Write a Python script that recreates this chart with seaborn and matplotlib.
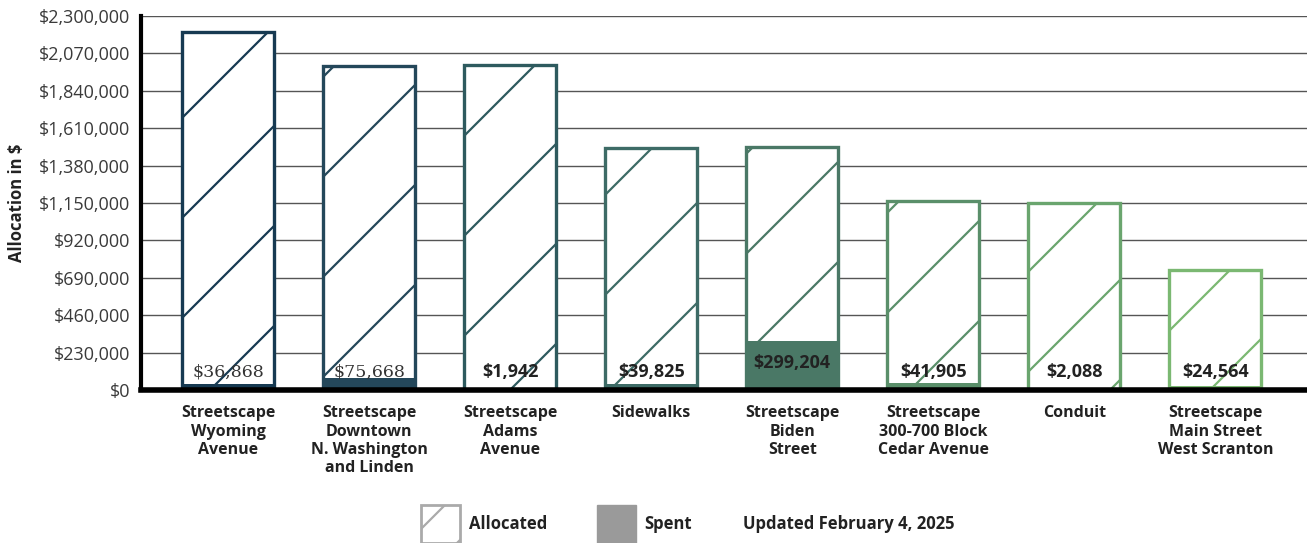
import matplotlib
matplotlib.use("Agg")
import matplotlib.pyplot as plt
import seaborn as sns
import pandas as pd
from matplotlib import backend_bases, hatch as mhatch
from matplotlib.patches import Patch
from matplotlib.ticker import FuncFormatter

# sparser hatch lines (matplotlib default density is 6 per inch)
def _sparse_hatch(self, density=6.0):
    h = self.get_hatch()
    if h is None:
        return None
    return mhatch.get_path(h, 2.0)
backend_bases.GraphicsContextBase.get_hatch_path = _sparse_hatch

# ---------------- data ----------------
categories = [
    "Streetscape\nWyoming\nAvenue",
    "Streetscape\nDowntown\nN. Washington\nand Linden",
    "Streetscape\nAdams\nAvenue",
    "Sidewalks",
    "Streetscape\nBiden\nStreet",
    "Streetscape\n300-700 Block\nCedar Avenue",
    "Conduit",
    "Streetscape\nMain Street\nWest Scranton",
]
allocated = [2200000, 1995000, 2000000, 1490000, 1495000, 1160000, 1150000, 740000]
spent = [36868, 75668, 1942, 39825, 299204, 41905, 2088, 24564]
spent_labels = ["$36,868", "$75,668", "$1,942", "$39,825", "$299,204", "$41,905", "$2,088", "$24,564"]
y_ticks = [0, 230000, 460000, 690000, 920000, 1150000, 1380000, 1610000, 1840000, 2070000, 2300000]

colors = ["#173a52", "#24475a", "#2e5a5e", "#3d6b66", "#4a7866", "#5a8f6a", "#6aa56e", "#7bb872"]

df = pd.DataFrame({"cat": categories, "allocated": allocated, "spent": spent})

sns.set_style("white")
plt.rcParams["font.family"] = ["Open Sans", "DejaVu Sans"]
plt.rcParams["hatch.linewidth"] = 1.6

fig = plt.figure(figsize=(13.07, 5.43), dpi=100)
ax = fig.add_axes([0.1079, 0.2818, 0.8921, 0.6887])

sns.barplot(data=df, x="cat", y="allocated", hue="cat", palette=colors, legend=False,
            width=0.65, ax=ax, zorder=3)
n = len(categories)
for p, c in zip(ax.patches[:n], colors):
    p.set_facecolor("white")
    p.set_edgecolor(c)
    p.set_linewidth(2.4)
    p.set_hatch("/")
    p.set_zorder(3)

sns.barplot(data=df, x="cat", y="spent", hue="cat", palette=colors, legend=False,
            width=0.65 + 0.02, ax=ax, saturation=1)
for p, c in zip(ax.patches[n:], colors):
    p.set_facecolor(c)
    p.set_edgecolor(c)
    p.set_linewidth(0)
    p.set_zorder(4)

for i, (s, lab) in enumerate(zip(spent, spent_labels)):
    y = max(110000, s * 0.55)
    if i < 2:
        ax.text(i, y, lab, ha="center", va="center", fontsize=12.5,
                family=["DejaVu Serif"], color="#333333", zorder=5)
    else:
        ax.text(i, y, lab, ha="center", va="center", fontsize=13,
                fontweight="bold", color="#222222", zorder=5)

ax.set_ylim(0, 2300000)
ax.set_xlim(-0.617, 7.65)
ax.set_yticks(y_ticks)
ax.yaxis.set_major_formatter(FuncFormatter(lambda v, _: f"${v:,.0f}"))
ax.tick_params(axis="y", labelsize=13, labelcolor="#3a3a3a", length=0, pad=8)
ax.tick_params(axis="x", labelsize=11.5, labelcolor="#222222", length=0, pad=11)
for t in ax.get_xticklabels():
    t.set_fontweight("bold")
    t.set_linespacing(1.2)
    t.set_va("top")
ax.set_xlabel("")
ax.set_ylabel("Allocation in $", fontsize=12, fontweight="bold", color="#222222", labelpad=9)

ax.grid(axis="y", color="#555555", linewidth=1.0, zorder=0)
ax.set_axisbelow(True)
for s in ["top", "right"]:
    ax.spines[s].set_visible(False)
ax.spines["left"].set_linewidth(3)
ax.spines["left"].set_color("black")
ax.spines["bottom"].set_linewidth(4)
ax.spines["bottom"].set_color("black")
ax.spines["bottom"].set_zorder(6)

handles = [Patch(facecolor="white", edgecolor="#aaaaaa", hatch="//", linewidth=2, label="Allocated"),
           Patch(facecolor="#9a9a9a", edgecolor="#9a9a9a", label="Spent")]
leg = fig.legend(handles=handles, loc="center left", bbox_to_anchor=(0.311, 0.035), ncol=2,
                 frameon=False, handlelength=2.3, handleheight=3.1, columnspacing=3.0,
                 handletextpad=0.55, prop={"weight": "bold", "size": 12})
for t in leg.get_texts():
    t.set_color("#222222")
fig.text(0.5685, 0.035, "Updated February 4, 2025", ha="left", va="center",
         fontsize=12, fontweight="bold", color="#222222")

fig.savefig("out.png", dpi=100)
